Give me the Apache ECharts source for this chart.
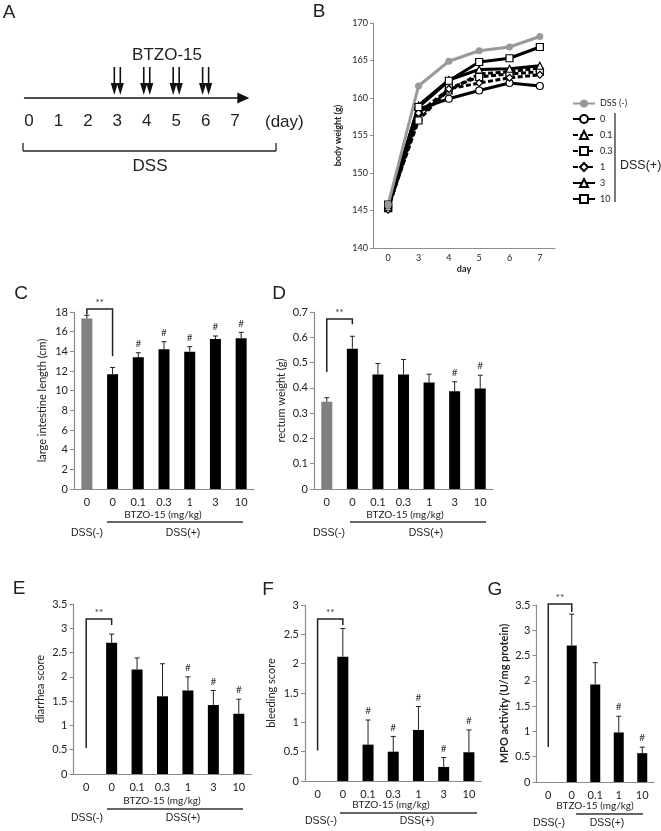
<!DOCTYPE html>
<html>
<head>
<meta charset="utf-8">
<script src="https://cdn.jsdelivr.net/npm/echarts@6/dist/echarts.min.js"></script>
<style>html,body{margin:0;padding:0;background:#fff;}#c{width:661px;height:831px;}</style>
</head>
<body>
<div id="c"></div>
<script>
// ---------- DATA ----------
const daysA = [0, 1, 2, 3, 4, 5, 6, 7];
const doseDays = [3, 4, 5, 6];

const daysB = ['0', '3', '4', '5', '6', '7'];
const bwNeg = [145.8, 161.6, 164.9, 166.3, 166.8, 168.2];
const bw0   = [145.5, 158.5, 159.9, 161.0, 162.0, 161.6];
const bw01  = [145.3, 157.5, 161.0, 163.2, 163.5, 164.0];
const bw03  = [145.5, 157.0, 161.3, 162.8, 163.2, 163.5];
const bw1   = [145.1, 158.0, 161.2, 162.0, 162.7, 163.1];
const bw3   = [145.5, 159.0, 162.4, 163.8, 163.9, 164.3];
const bw10  = [145.8, 158.8, 162.3, 164.8, 165.3, 166.8];
const legendB = ['DSS (-)', '0', '0.1', '0.3', '1', '3', '10'];

const dosesBar = ['0', '0', '0.1', '0.3', '1', '3', '10'];
const dosesG = ['0', '0', '0.1', '1', '10'];

const lengthC = [17.33, 11.66, 13.39, 14.2, 13.97, 15.25, 15.32];
const lengthErr = [0.33, 0.7, 0.47, 0.78, 0.5, 0.31, 0.61];
const lengthSig = [0, 0, 1, 1, 1, 1, 1];

const rectumD = [0.345, 0.555, 0.453, 0.453, 0.421, 0.387, 0.397];
const rectumErr = [0.016, 0.049, 0.043, 0.059, 0.033, 0.037, 0.053];
const rectumSig = [0, 0, 0, 0, 0, 1, 1];

const diarrheaE = [0, 2.7, 2.15, 1.6, 1.72, 1.42, 1.24];
const diarrheaErr = [0, 0.18, 0.24, 0.67, 0.28, 0.3, 0.3];
const diarrheaSig = [0, 0, 0, 0, 1, 1, 1];

const bleedingF = [0, 2.12, 0.62, 0.5, 0.87, 0.24, 0.49];
const bleedingErr = [0, 0.48, 0.42, 0.26, 0.4, 0.16, 0.38];
const bleedingSig = [0, 0, 1, 1, 1, 1, 1];

const mpoG = [0, 2.7, 1.93, 0.98, 0.57];
const mpoErr = [0, 0.62, 0.43, 0.32, 0.12];
const mpoSig = [0, 0, 0, 1, 1];

// significance brackets: [top, left end, right end] in data units
const bracketC = [18.3, 17.75, 13.5];
const bracketD = [0.672, 0.463, 0.652];
const bracketE = [3.19, 0.535, 3.07];
const bracketF = [2.76, 0.52, 2.66];
const bracketG = [3.52, 0.69, 3.36];

// ---------- STYLE ----------
const SANS = '"Liberation Sans", Arial, sans-serif';
const CAL = 'Lato, "Open Sans", sans-serif';
const AX = '#8c8c8c';
const GRAY = '#808080';
const TXT = '#222';

const grids = [], xAxes = [], yAxes = [], series = [], graphics = [];

function txt(x, y, s, size, extra) {
  graphics.push({type: 'text', x: x, y: y, silent: true,
    style: Object.assign({text: s, fontSize: size, fontFamily: SANS, fill: TXT,
      align: 'center', verticalAlign: 'middle'}, extra || {})});
}
function ln(x1, y1, x2, y2, w, color) {
  graphics.push({type: 'line', silent: true, shape: {x1, y1, x2, y2},
    style: {stroke: color || '#333', lineWidth: w || 1}});
}

// ---------- PANEL A ----------
grids.push({left: 24.6, top: 60, width: 218.7, height: 38});
xAxes.push({gridIndex: 0, type: 'value', min: -0.15, max: 7.28,
  axisLine: {show: true, lineStyle: {color: '#111', width: 1.6}, symbol: ['none', 'triangle'], symbolSize: [11, 12]},
  axisTick: {show: false}, splitLine: {show: false},
  axisLabel: {customValues: daysA, fontSize: 17, color: TXT, fontFamily: SANS, margin: 15}});
yAxes.push({gridIndex: 0, type: 'value', min: 0, max: 1, show: false});
series.push({type: 'custom', xAxisIndex: 0, yAxisIndex: 0, silent: true,
  data: doseDays.map(d => [d, 0]),
  renderItem: function (params, api) {
    const p = api.coord([api.value(0), 0]);
    const ch = [];
    [-3, 3].forEach(function (dx) {
      const x = p[0] + dx, yTop = p[1] - 31, yTip = p[1] - 3;
      ch.push({type: 'line', shape: {x1: x, y1: yTop, x2: x, y2: yTip - 8}, style: {stroke: '#111', lineWidth: 1.6}});
      ch.push({type: 'polygon', shape: {points: [[x - 3.6, yTip - 12], [x + 3.6, yTip - 12], [x, yTip]]}, style: {fill: '#111'}});
    });
    return {type: 'group', children: ch};
  }});
txt(167, 55, 'BTZO-15', 17);
txt(265, 122, '(day)', 17, {align: 'left'});
ln(23, 151, 276, 151, 1.3, '#222');
ln(23, 143, 23, 151, 1.3, '#222');
ln(276, 143, 276, 151, 1.3, '#222');
txt(150, 166, 'DSS', 17);

// ---------- PANEL B ----------
grids.push({left: 373, top: 23, width: 182, height: 225});
xAxes.push({gridIndex: 1, type: 'category', data: daysB, name: 'day', nameLocation: 'middle', nameGap: 17,
  nameTextStyle: {fontSize: 9, fontWeight: 'bold', color: TXT, fontFamily: CAL},
  axisLine: {lineStyle: {color: AX}}, axisTick: {length: 3, lineStyle: {color: AX}},
  axisLabel: {fontSize: 9, color: TXT, fontFamily: CAL, margin: 6}});
yAxes.push({gridIndex: 1, type: 'value', min: 140, max: 170, interval: 5, name: 'body weight (g)',
  nameLocation: 'middle', nameGap: 30, nameRotate: 90,
  nameTextStyle: {fontSize: 9, fontWeight: 'bold', color: TXT, fontFamily: CAL},
  axisLine: {show: true, lineStyle: {color: AX}}, axisTick: {show: true, length: 3, lineStyle: {color: AX}},
  splitLine: {show: false}, axisLabel: {fontSize: 9, color: TXT, fontFamily: CAL, margin: 5}});
function bLine(name, data, sym, dashed, gray) {
  series.push({type: 'line', name: name, xAxisIndex: 1, yAxisIndex: 1, data: data,
    symbol: sym, symbolSize: gray ? 7 : 7, showAllSymbol: true,
    lineStyle: {color: gray ? '#999' : '#000', width: 3, type: dashed ? [5, 2.5] : 'solid'},
    itemStyle: {color: gray ? '#999' : '#fff', borderColor: gray ? '#999' : '#000', borderWidth: gray ? 0 : 1.2}});
}
bLine(legendB[1], bw0, 'circle', false, false);
bLine(legendB[2], bw01, 'triangle', true, false);
bLine(legendB[3], bw03, 'rect', true, false);
bLine(legendB[4], bw1, 'diamond', true, false);
bLine(legendB[5], bw3, 'triangle', false, false);
bLine(legendB[6], bw10, 'rect', false, false);
bLine(legendB[0], bwNeg, 'circle', false, true);
ln(615, 113, 615, 202, 1.3, '#333');
txt(620, 166, 'DSS(+)', 12.5, {align: 'left'});

// ---------- BAR PANELS ----------
function barPanel(g, cats, vals, errs, sig, br, ymax, interval, yName, gap, bold, barW) {
  const gi = grids.length;
  grids.push(g);
  xAxes.push({gridIndex: gi, type: 'category', data: cats,
    axisLine: {lineStyle: {color: AX, width: 1.2}}, axisTick: {length: 4, lineStyle: {color: AX}},
    axisLabel: {fontSize: 11, color: TXT, fontFamily: CAL, margin: 8}});
  yAxes.push({gridIndex: gi, type: 'value', min: 0, max: ymax, interval: interval, name: yName,
    nameLocation: 'middle', nameGap: gap, nameRotate: 90,
    nameTextStyle: {fontSize: 11, color: TXT, fontFamily: CAL, fontWeight: bold ? 'bold' : 'normal'},
    axisLine: {show: true, lineStyle: {color: AX, width: 1.2}}, axisTick: {show: true, length: 4, lineStyle: {color: AX}},
    splitLine: {show: false}, axisLabel: {fontSize: 11, color: TXT, fontFamily: CAL, margin: 6}});
  series.push({type: 'bar', xAxisIndex: gi, yAxisIndex: gi, barWidth: barW, silent: true,
    data: vals.map((v, i) => ({value: v, itemStyle: {color: i === 0 ? GRAY : '#000'}}))});
  series.push({type: 'custom', xAxisIndex: gi, yAxisIndex: gi, silent: true, z: 5,
    data: vals.map((v, i) => [i, v, errs[i], sig[i]]),
    encode: {x: 0, y: 1},
    renderItem: function (params, api) {
      const i = api.value(0), v = api.value(1), e = api.value(2), s = api.value(3);
      const b = api.coord([i, v]), t = api.coord([i, v + e]);
      const ch = [];
      if (e > 0) {
        ch.push({type: 'line', shape: {x1: b[0], y1: b[1], x2: t[0], y2: t[1]}, style: {stroke: '#222', lineWidth: 1}});
        ch.push({type: 'line', shape: {x1: t[0] - 2.5, y1: t[1], x2: t[0] + 2.5, y2: t[1]}, style: {stroke: '#222', lineWidth: 1}});
      }
      if (s) {
        ch.push({type: 'text', x: t[0], y: t[1] - 4, style: {text: '#', fontSize: 10, fontFamily: CAL, fill: '#333', align: 'center', verticalAlign: 'bottom'}});
      }
      return {type: 'group', children: ch};
    }});
  series.push({type: 'custom', xAxisIndex: gi, yAxisIndex: gi, silent: true, z: 5,
    data: [[0, br[0], br[1], br[2]]],
    encode: {x: 0, y: 1},
    renderItem: function (params, api) {
      const top = api.value(1), le = api.value(2), re = api.value(3);
      const a = api.coord([0, top]), b = api.coord([1, top]);
      const la = api.coord([0, le]), rb = api.coord([1, re]);
      return {type: 'group', children: [
        {type: 'polyline', shape: {points: [[la[0], la[1]], [a[0], a[1]], [b[0], b[1]], [rb[0], rb[1]]]},
          style: {stroke: '#222', lineWidth: 1.5, fill: null}},
        {type: 'text', x: (a[0] + b[0]) / 2, y: a[1] - 1, style: {text: '**', fontSize: 10, fontFamily: CAL, fill: '#333', align: 'center', verticalAlign: 'bottom'}}
      ]};
    }});
}
barPanel({left: 74, top: 312, width: 180, height: 177}, dosesBar, lengthC, lengthErr, lengthSig, bracketC, 18, 2, 'large intestine length (cm)', 26, false, 11);
barPanel({left: 314, top: 312, width: 179, height: 177}, dosesBar, rectumD, rectumErr, rectumSig, bracketD, 0.7, 0.1, 'rectum weight (g)', 27, false, 11);
barPanel({left: 73.5, top: 604, width: 178, height: 170}, dosesBar, diarrheaE, diarrheaErr, diarrheaSig, bracketE, 3.5, 0.5, 'diarrhea score', 28, false, 11);
barPanel({left: 305, top: 605, width: 176.5, height: 176}, dosesBar, bleedingF, bleedingErr, bleedingSig, bracketF, 3, 0.5, 'bleeding score', 28, false, 11);
barPanel({left: 536.5, top: 605, width: 117.5, height: 177}, dosesG, mpoG, mpoErr, mpoSig, bracketG, 3.5, 0.5, 'MPO activity (U/mg protein)', 27, true, 10);

// bar panel footers
function footer(bx, by, lx1, lx2, ly, mx, px, dy) {
  txt(bx, by, 'BTZO-15 (mg/kg)', 10, {fontFamily: CAL});
  ln(lx1, ly, lx2, ly, 1.5, '#333');
  txt(mx, dy, 'DSS(-)', 10.5);
  txt(px, dy, 'DSS(+)', 10.5);
}
footer(163, 515, 107, 243, 522, 87, 183, 533);
footer(405, 515, 350, 486, 522, 329, 426, 533);
footer(162, 801, 107, 243, 809, 87, 183, 818);
footer(391, 805, 340, 477, 813, 321, 417, 821);
footer(595, 806, 576, 643, 814, 549, 607, 823);

// panel letters
txt(9, 13, 'A', 19);
txt(319, 12, 'B', 19);
txt(21, 294, 'C', 19);
txt(279, 294, 'D', 19);
txt(19, 589, 'E', 19);
txt(268, 590, 'F', 19);
txt(495, 590, 'G', 19);

const chart = echarts.init(document.getElementById('c'), null, {renderer: 'canvas'});
chart.setOption({
  animation: false,
  backgroundColor: '#fff',
  grid: grids, xAxis: xAxes, yAxis: yAxes, series: series,
  legend: {data: legendB, orient: 'vertical', left: 567, top: 94, itemWidth: 22, itemHeight: 10, itemGap: 6,
    textStyle: {fontSize: 9, color: TXT, fontFamily: CAL}, selectedMode: false},
  graphic: graphics
});
</script>
</body>
</html>
